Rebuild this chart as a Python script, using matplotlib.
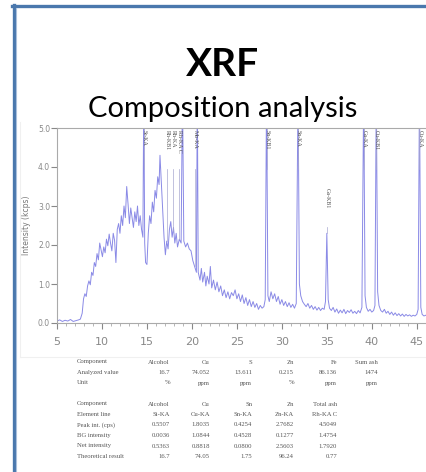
import matplotlib.pyplot as plt
import matplotlib.ticker as mtick
from matplotlib.lines import Line2D
import numpy as np

# spectrum: 2-theta (deg) and intensity (kcps)
two_theta = [5.0, 5.3, 5.6, 5.9, 6.2, 6.5, 6.8, 7.1, 7.4, 7.6, 7.8, 7.95, 8.1, 8.25, 8.4,
             8.55, 8.7, 8.85, 9.0, 9.15, 9.3, 9.45, 9.6, 9.75, 9.9, 10.05, 10.2, 10.35, 10.5,
             10.65, 10.8, 10.95, 11.1, 11.25, 11.4, 11.55, 11.7, 11.85, 12.0, 12.15, 12.3,
             12.45, 12.6, 12.75, 12.9, 13.05, 13.2, 13.35, 13.5, 13.65, 13.8, 13.95, 14.1,
             14.25, 14.4, 14.55, 14.65, 14.75, 14.85, 15.0, 15.15, 15.3, 15.45, 15.6, 15.75,
             15.9, 16.05, 16.2, 16.35, 16.45, 16.6, 16.75, 16.9, 17.05, 17.2, 17.35, 17.5,
             17.65, 17.8, 17.95, 18.1, 18.25, 18.4, 18.6, 18.8, 18.95, 19.1, 19.3, 19.5,
             19.7, 19.9, 20.1, 20.3, 20.5, 20.6, 20.7, 20.9, 21.05, 21.2, 21.4, 21.55, 21.7,
             21.9, 22.05, 22.2, 22.4, 22.6, 22.8, 23.0, 23.2, 23.4, 23.6, 23.8, 24.0, 24.2,
             24.4, 24.6, 24.8, 25.0, 25.2, 25.4, 25.6, 25.8, 26.0, 26.2, 26.4, 26.6, 26.8,
             27.0, 27.2, 27.4, 27.6, 27.8, 28.0, 28.15, 28.3, 28.45, 28.6, 28.8, 29.0, 29.2,
             29.4, 29.6, 29.8, 30.0, 30.2, 30.4, 30.6, 30.8, 31.0, 31.2, 31.4, 31.6, 31.8,
             31.95, 32.1, 32.3, 32.5, 32.7, 32.9, 33.1, 33.3, 33.5, 33.7, 33.9, 34.1, 34.3,
             34.5, 34.7, 34.85, 35.0, 35.15, 35.3, 35.5, 35.7, 35.9, 36.1, 36.3, 36.5, 36.7,
             36.9, 37.1, 37.3, 37.5, 37.7, 37.9, 38.1, 38.3, 38.5, 38.7, 38.9, 39.1, 39.25,
             39.4, 39.6, 39.8, 40.0, 40.2, 40.35, 40.5, 40.65, 40.8, 41.0, 41.2, 41.4, 41.6,
             41.8, 42.0, 42.2, 42.4, 42.6, 42.8, 43.0, 43.2, 43.4, 43.6, 43.8, 44.0, 44.2,
             44.4, 44.6, 44.8, 45.0, 45.15, 45.3, 45.45, 45.6, 45.8, 46.0, 46.2]
intensity = [0.05, 0.08, 0.04, 0.07, 0.05, 0.09, 0.04, 0.06, 0.08, 0.10, 0.25, 0.62, 0.75, 0.68, 0.95,
             1.08, 0.98, 1.30, 1.22, 1.55, 1.45, 1.78, 1.62, 2.05, 1.88, 1.70, 1.95, 1.80, 2.15,
             1.98, 2.28, 2.05, 1.85, 2.30, 2.12, 1.55, 2.40, 2.55, 2.30, 2.75, 2.50,
             3.00, 2.70, 3.50, 3.05, 2.55, 2.95, 2.70, 2.45, 2.85, 2.60, 3.00, 2.50,
             2.75, 2.40, 2.20, 6.00, 2.05, 1.55, 1.50, 2.30, 2.75, 2.55, 3.10, 2.85,
             3.40, 3.20, 3.75, 3.55, 4.30, 3.60, 2.90, 2.20, 1.75, 2.10, 1.90, 2.40,
             2.60, 2.20, 2.45, 2.05, 2.30, 1.95, 2.15, 2.05, 6.00, 2.10, 1.95, 2.05,
             1.90, 1.85, 1.60, 1.45, 1.30, 6.00, 1.30, 1.10, 1.40, 1.05, 1.30, 0.95, 1.20,
             1.00, 1.45, 0.90, 1.10, 0.85, 1.05, 0.80, 0.95, 0.70, 0.85, 0.65, 0.80, 0.62,
             0.78, 0.70, 0.85, 0.62, 0.75, 0.55, 0.72, 0.50, 0.65, 0.45, 0.60, 0.42, 0.55,
             0.40, 0.50, 0.35, 0.45, 0.38, 0.42, 0.60, 6.00, 0.70, 0.55, 0.80, 0.62, 0.75,
             0.55, 0.68, 0.48, 0.60, 0.45, 0.55, 0.42, 0.52, 0.40, 0.48, 0.38, 0.50, 6.00,
             1.00, 0.70, 0.55, 0.48, 0.42, 0.50, 0.38, 0.45, 0.35, 0.42, 0.33, 0.40, 0.32,
             0.38, 0.35, 0.55, 2.30, 0.60, 0.38, 0.32, 0.40, 0.28, 0.36, 0.25, 0.33, 0.26,
             0.35, 0.24, 0.32, 0.27, 0.34, 0.25, 0.30, 0.24, 0.32, 0.26, 0.40, 6.00, 0.70,
             0.40, 0.30, 0.35, 0.28, 0.32, 0.45, 6.00, 0.80, 0.45, 0.32, 0.28, 0.35, 0.25,
             0.30, 0.22, 0.28, 0.20, 0.26, 0.19, 0.24, 0.18, 0.23, 0.17, 0.22, 0.18, 0.21,
             0.17, 0.20, 0.18, 0.22, 0.35, 6.00, 0.40, 0.22, 0.18, 0.20, 0.17]

# element line markers (position, name, top of label in kcps)
line_pos = [14.65, 17.2, 17.9, 18.6, 20.3, 28.3, 31.8, 35.0, 39.1, 40.5, 45.3]
line_names = ["Sr-KA", "Rh-KB1", "Rh-KA", "Rh-KA C", "Mo-KA", "Sn-KB1", "Sn-KA",
              "Ga-KB1", "Ga-KA", "Cu-KB1", "Cu-KA"]
line_top = [4.95, 4.95, 4.95, 4.95, 4.95, 4.95, 4.95, 3.45, 4.95, 4.95, 4.95]

table1 = [["Component", "Alcohol", "Cu", "S", "Zn", "Fe", "Sum ash"],
          ["Analyzed value", "16.7", "74.052", "13.611", "0.215", "86.136", "1474"],
          ["Unit", "%", "ppm", "ppm", "%", "ppm", "ppm"]]
table2 = [["Component", "Alcohol", "Cu", "Sn", "Zn", "Total ash"],
          ["Element line", "Si-KA", "Cu-KA", "Sn-KA", "Zn-KA", "Rh-KA C"],
          ["Peak int. (cps)", "0.5507", "1.8035", "0.4254", "2.7682", "4.5049"],
          ["BG intensity", "0.0036", "1.0844", "0.4528", "0.1277", "1.4754"],
          ["Net intensity", "0.5363", "0.8818", "0.0800", "2.5603", "1.7920"],
          ["Theoretical result", "16.7", "74.05", "1.75", "96.24", "0.77"]]

W, H = 426, 472
fig = plt.figure(figsize=(W / 100, H / 100), dpi=100)
fig.patch.set_facecolor("white")


def px(x, y):
    # pixel position -> figure fraction
    return x / W, 1 - y / H


# slide frame
fig.add_artist(Line2D([13.5 / W, 13.5 / W], [0, px(0, 5)[1]], color="#4a78ad", lw=2.4))
fig.add_artist(Line2D([12 / W, 1], [px(0, 5.5)[1]] * 2, color="#4a78ad", lw=2.4))
fig.add_artist(Line2D([16 / W, 16 / W], [0, px(0, 8)[1]], color="#a9c0dc", lw=0.8))

# faint box round the pasted chart
fig.add_artist(Line2D([20 / W, 1], [px(0, 357)[1]] * 2, color="#f0f0f0", lw=0.8))
fig.add_artist(Line2D([20 / W, 20 / W], [px(0, 357)[1], px(0, 122)[1]], color="#f0f0f0", lw=0.8))

fig.text(*px(222, 64), "XRF", ha="center", va="center", fontsize=28,
         fontweight="bold", family="Lato")
fig.text(*px(223, 109), "Composition analysis", ha="center", va="center",
         fontsize=21, family="Lato")

ax = fig.add_axes([57 / W, 1 - 323 / H, 1 - 57 / W + 0.01, (323 - 128) / H])
ax.plot(two_theta, intensity, color="#8a8ae6", lw=0.7)
for x, name, top in zip(line_pos, line_names, line_top):
    y_data = np.interp(x, two_theta, intensity)
    ax.plot([x, x], [min(y_data, 5.0), top - 1.0], color="#a8a8d0", lw=0.5)
    ax.text(x + 0.05, top, name, rotation=270, ha="center", va="top",
            fontsize=4.3, color="#555555", family="Liberation Serif")

ax.set_xlim(5, 46.5)
ax.set_ylim(0, 5)
ax.xaxis.set_major_locator(mtick.MultipleLocator(5))
ax.xaxis.set_minor_locator(mtick.MultipleLocator(1))
ax.yaxis.set_major_locator(mtick.MultipleLocator(1))
ax.yaxis.set_major_formatter(mtick.FormatStrFormatter("%.1f"))
for s in ["left", "bottom", "top"]:
    ax.spines[s].set_color("#aaaaaa")
    ax.spines[s].set_linewidth(0.8)
ax.spines["right"].set_visible(False)
ax.tick_params(axis="x", which="major", labelsize=8, colors="#888888", length=4, pad=6)
ax.tick_params(axis="x", which="minor", colors="#aaaaaa", length=2.5)
ax.tick_params(axis="y", labelsize=5.5, colors="#888888", length=4, pad=1)
ax.set_ylabel("Intensity (kcps)", fontsize=5.5, color="#777777", labelpad=5)

# result tables under the spectrum
col_right = [170, 210, 252, 294, 337, 378]
for rows, y0 in [(table1, 362), (table2, 404)]:
    for i, row in enumerate(rows):
        y = y0 + i * 10.5
        fig.text(*px(77, y), row[0], ha="left", va="center", fontsize=4.8,
                 color="#555555", family="Liberation Serif")
        for cell, xr in zip(row[1:], col_right):
            fig.text(*px(xr, y), cell, ha="right", va="center", fontsize=4.8,
                     color="#555555", family="Liberation Serif")

plt.savefig("out.png", dpi=100)
